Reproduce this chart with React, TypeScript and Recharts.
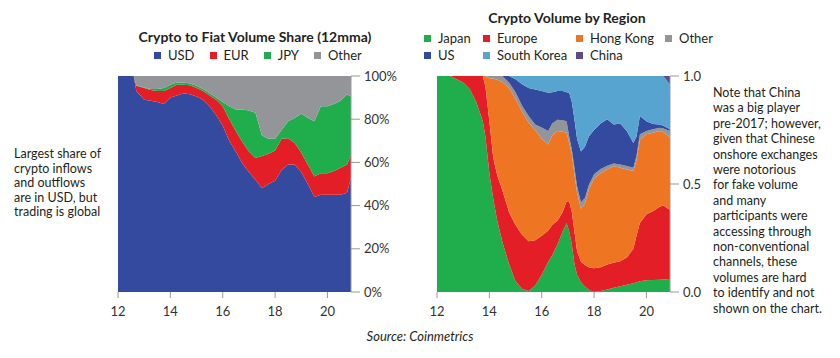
import React from 'react';
import { Area, AreaChart, XAxis, YAxis } from 'recharts';

// left chart: crypto to fiat volume share, % (12mma)
const leftYears = [12, 12.3, 12.6, 12.7, 13, 13.25, 13.5, 13.75, 14, 14.25, 14.5, 14.75, 15, 15.25, 15.5, 15.75, 16, 16.25, 16.5, 16.75, 17, 17.25, 17.5, 17.75, 18, 18.25, 18.5, 18.75, 19, 19.25, 19.5, 19.75, 20, 20.25, 20.5, 20.75, 20.9];
const usd = [100, 100, 100, 93, 89, 88.5, 88, 87, 90, 91, 92, 91.5, 90.5, 89, 86, 82, 77, 70, 65, 59.5, 55.5, 52, 48, 50, 51.5, 56.5, 59, 59, 55.5, 50, 44, 45, 45, 45, 45, 46, 53];
const eur = [0, 0, 0, 2.5, 5.5, 5, 5, 6, 4.5, 5, 4, 4.2, 4, 4, 5, 7, 9, 10, 9.5, 10, 9.5, 10, 15, 14, 14, 14.5, 12.2, 10, 9, 9, 9.5, 10, 10, 11, 12.5, 13, 10.5];
const jpy = [0, 0, 0, 0.2, 0.2, 0.5, 1, 1.5, 1.5, 1, 1, 0.8, 1, 1, 1, 1, 2, 6, 10, 15, 19, 21, 9.5, 7, 5.5, 4, 7.8, 11.5, 18, 21.5, 25.5, 31, 31, 31, 31, 32.5, 27];
const otherFiat = [0, 0, 0, 4.3, 5.3, 6, 6, 5.5, 4, 3, 3, 3.5, 4.5, 6, 8, 10, 12, 14, 15.5, 15.5, 16, 17, 27.5, 29, 29, 25, 21, 19.5, 17.5, 19.5, 21, 14, 14, 13, 11.5, 8.5, 9.5];

// right chart: crypto volume by region (share)
const rightYears = [12, 12.5, 12.75, 13, 13.25, 13.5, 13.75, 13.85, 14, 14.15, 14.3, 14.5, 14.75, 15, 15.25, 15.5, 15.75, 16, 16.25, 16.4, 16.6, 16.8, 16.95, 17.05, 17.15, 17.25, 17.35, 17.5, 17.65, 17.8, 18, 18.25, 18.5, 18.75, 19, 19.25, 19.5, 19.62, 19.75, 20, 20.25, 20.5, 20.65, 20.9];
const japan = [1, 1, 0.985, 0.97, 0.94, 0.88, 0.79, 0.72, 0.55, 0.43, 0.33, 0.23, 0.13, 0.05, 0.015, 0.005, 0.03, 0.08, 0.14, 0.17, 0.22, 0.28, 0.32, 0.28, 0.22, 0.13, 0.08, 0.045, 0.025, 0.01, 0, 0.005, 0.012, 0.02, 0.027, 0.033, 0.04, 0.045, 0.05, 0.054, 0.056, 0.057, 0.058, 0.06];
const europe = [0, 0, 0.015, 0.03, 0.06, 0.12, 0.21, 0.23, 0.24, 0.19, 0.21, 0.24, 0.24, 0.26, 0.25, 0.23, 0.21, 0.18, 0.145, 0.14, 0.11, 0.09, 0.1, 0.14, 0.15, 0.15, 0.11, 0.095, 0.1, 0.105, 0.11, 0.11, 0.115, 0.115, 0.115, 0.127, 0.16, 0.215, 0.27, 0.306, 0.318, 0.338, 0.342, 0.32];
const hongKong = [0, 0, 0, 0, 0, 0, 0, 0.05, 0.2, 0.368, 0.443, 0.502, 0.575, 0.585, 0.57, 0.55, 0.51, 0.45, 0.398, 0.415, 0.415, 0.372, 0.317, 0.27, 0.27, 0.265, 0.27, 0.245, 0.285, 0.36, 0.415, 0.435, 0.44, 0.448, 0.433, 0.407, 0.36, 0.35, 0.386, 0.37, 0.363, 0.35, 0.34, 0.334];
const otherRegion = [0, 0, 0, 0, 0, 0, 0, 0, 0.01, 0.012, 0.017, 0.028, 0.025, 0.03, 0.027, 0.03, 0.025, 0.052, 0.062, 0.055, 0.052, 0.053, 0.053, 0.03, 0.02, 0.03, 0.03, 0.03, 0.025, 0.02, 0.02, 0.02, 0.018, 0.012, 0.015, 0.016, 0.015, 0.02, 0.024, 0.015, 0.016, 0.015, 0.017, 0.031];
const us = [0, 0, 0, 0, 0, 0, 0, 0, 0, 0, 0, 0, 0.03, 0.06, 0.1, 0.13, 0.163, 0.168, 0.178, 0.145, 0.133, 0.135, 0.135, 0.203, 0.22, 0.225, 0.22, 0.235, 0.237, 0.225, 0.205, 0.21, 0.215, 0.181, 0.19, 0.162, 0.115, 0.09, 0.085, 0.045, 0.025, 0.016, 0.013, 0.008];
const southKorea = [0, 0, 0, 0, 0, 0, 0, 0, 0, 0, 0, 0, 0, 0.015, 0.038, 0.055, 0.062, 0.07, 0.077, 0.075, 0.07, 0.07, 0.075, 0.077, 0.12, 0.2, 0.29, 0.35, 0.328, 0.28, 0.25, 0.22, 0.2, 0.224, 0.22, 0.255, 0.31, 0.28, 0.185, 0.21, 0.222, 0.224, 0.23, 0.207];
const china = [0, 0, 0, 0, 0, 0, 0, 0, 0, 0, 0, 0, 0, 0, 0, 0, 0, 0, 0, 0, 0, 0, 0, 0, 0, 0, 0, 0, 0, 0, 0, 0, 0, 0, 0, 0, 0, 0, 0, 0, 0, 0, 0, 0.04];

const xTicks = [12, 14, 16, 18, 20];
const pctTicks = [0, 20, 40, 60, 80, 100];
const shareTicks = [0, 0.5, 1];

const leftSeries = [
  { key: 'USD', values: usd, color: '#344a9e' },
  { key: 'EUR', values: eur, color: '#e31e26' },
  { key: 'JPY', values: jpy, color: '#1fae4b' },
  { key: 'Other', values: otherFiat, color: '#939598' },
];
const rightSeries = [
  { key: 'Japan', values: japan, color: '#1fae4b' },
  { key: 'Europe', values: europe, color: '#e31e26' },
  { key: 'Hong Kong', values: hongKong, color: '#ee7623' },
  { key: 'Other', values: otherRegion, color: '#939598' },
  { key: 'US', values: us, color: '#344a9e' },
  { key: 'South Korea', values: southKorea, color: '#58a4d1' },
  { key: 'China', values: china, color: '#5e4a8a' },
];
// legend grid order for the right chart (row by row)
const rightLegend = ['Japan', 'Europe', 'Hong Kong', 'Other', 'US', 'South Korea', 'China'];

const leftData = leftYears.map((x, i) => {
  const row: Record<string, number> = { x };
  leftSeries.forEach(s => { row[s.key] = s.values[i]; });
  return row;
});
const rightData = rightYears.map((x, i) => {
  const row: Record<string, number> = { x };
  rightSeries.forEach(s => { row[s.key] = s.values[i]; });
  return row;
});

const font = 'Lato, "Open Sans", sans-serif';
const textColor = '#231f20';
const tickStyle = { fill: '#333', fontSize: 13, fontFamily: font };

const Swatch = ({ color, label }: { color: string; label: string }) => (
  <div style={{ display: 'flex', alignItems: 'center', whiteSpace: 'nowrap' }}>
    <span style={{ width: 7, height: 7, background: color, display: 'inline-block', marginRight: 7 }} />
    <span>{label}</span>
  </div>
);

const App = () => {
  return (
    <div style={{ position: 'absolute', left: 0, top: 0, width: 840, height: 358, background: '#fff', fontFamily: font, color: textColor }}>
      {/* left title + legend */}
      <div style={{ position: 'absolute', left: 100, width: 310, top: 28, textAlign: 'center', fontWeight: 700, fontSize: 14 }}>
        Crypto to Fiat Volume Share (12mma)
      </div>
      <div style={{ position: 'absolute', left: 154, top: 47, display: 'flex', gap: 15, fontSize: 13 }}>
        {leftSeries.map(s => <Swatch key={s.key} color={s.color} label={s.key} />)}
      </div>

      {/* right title + legend */}
      <div style={{ position: 'absolute', left: 467, width: 200, top: 9, textAlign: 'center', fontWeight: 700, fontSize: 14 }}>
        Crypto Volume by Region
      </div>
      <div style={{ position: 'absolute', left: 424, top: 30, display: 'grid', gridTemplateColumns: '59px 93px 89px auto', rowGap: 1, fontSize: 13, lineHeight: '16px' }}>
        {rightLegend.map(k => {
          const s = rightSeries.find(r => r.key === k)!;
          return <Swatch key={k} color={s.color} label={k} />;
        })}
      </div>

      {/* left chart */}
      <div style={{ position: 'absolute', left: 0, top: 0 }}>
        <AreaChart width={420} height={320} data={leftData} margin={{ top: 76, left: 118, right: 10, bottom: 0 }}>
          <XAxis dataKey="x" type="number" domain={[12, 20.9]} ticks={xTicks} axisLine={false}
            tickSize={6} tickMargin={9} tickLine={{ stroke: '#999' }} tick={tickStyle} height={28} allowDataOverflow />
          <YAxis orientation="right" domain={[0, 100]} ticks={pctTicks} tickFormatter={v => `${v}%`} width={59}
            tickSize={9} tickMargin={4} axisLine={{ stroke: '#999' }} tickLine={{ stroke: '#999' }}
            tick={{ ...tickStyle, textAnchor: 'start' }} />
          {leftSeries.map(s => (
            <Area key={s.key} dataKey={s.key} stackId="a" type="linear" stroke="none" fill={s.color} fillOpacity={1} isAnimationActive={false} />
          ))}
        </AreaChart>
      </div>

      {/* right chart */}
      <div style={{ position: 'absolute', left: 420, top: 0 }}>
        <AreaChart width={420} height={320} data={rightData} margin={{ top: 76, left: 17, right: 130, bottom: 0 }}>
          <XAxis dataKey="x" type="number" domain={[12, 20.9]} ticks={xTicks} axisLine={false}
            tickSize={6} tickMargin={9} tickLine={{ stroke: '#999' }} tick={tickStyle} height={28} allowDataOverflow />
          <YAxis orientation="right" domain={[0, 1]} ticks={shareTicks} tickFormatter={v => v.toFixed(1)} width={40}
            tickSize={9} tickMargin={4} axisLine={{ stroke: '#999' }} tickLine={{ stroke: '#999' }}
            tick={{ ...tickStyle, textAnchor: 'start' }} />
          {rightSeries.map(s => (
            <Area key={s.key} dataKey={s.key} stackId="r" type="linear" stroke="none" fill={s.color} fillOpacity={1} isAnimationActive={false} />
          ))}
        </AreaChart>
      </div>

      {/* annotations */}
      <div style={{ position: 'absolute', left: 14, top: 147, fontSize: 12.5, lineHeight: '14.6px' }}>
        Largest share of<br />crypto inflows<br />and outflows<br />are in USD, but<br />trading is global
      </div>
      <div style={{ position: 'absolute', left: 713, top: 85, fontSize: 12.5, lineHeight: '15.4px' }}>
        Note that China<br />was a big player<br />pre-2017; however,<br />given that Chinese<br />onshore exchanges<br />were notorious<br />for fake volume<br />and many<br />participants were<br />accessing through<br />non-conventional<br />channels, these<br />volumes are hard<br />to identify and not<br />shown on the chart.
      </div>
      <div style={{ position: 'absolute', left: 0, width: 840, top: 328, textAlign: 'center', fontStyle: 'italic', fontSize: 13 }}>
        Source: Coinmetrics
      </div>
    </div>
  );
};

export default App;
